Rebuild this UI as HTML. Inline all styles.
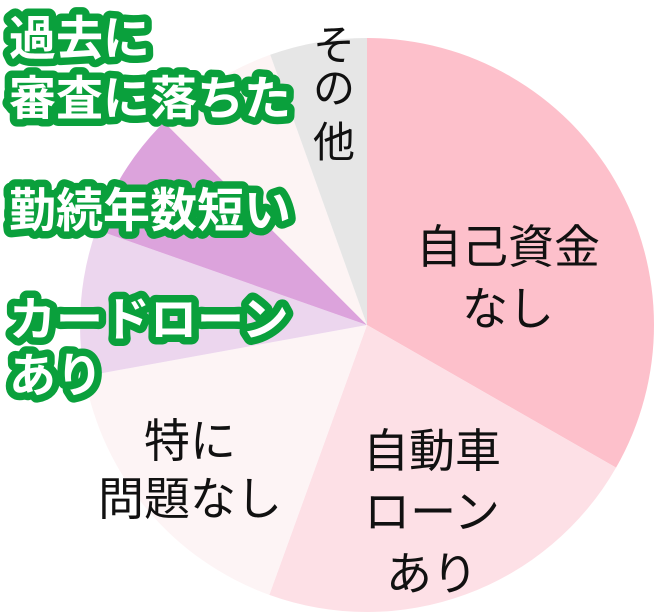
<!DOCTYPE html>
<html><head><meta charset="utf-8"><style>
html,body{margin:0;padding:0;background:#fff;}
svg{display:block;}
text{font-family:"Liberation Sans","Noto Sans CJK JP",sans-serif;}
.b{font-size:46px;fill:#111;text-anchor:middle;}
.g{font-size:47px;font-weight:bold;fill:#fff;stroke:#0aa03c;stroke-width:15px;stroke-linejoin:round;paint-order:stroke;}
</style></head><body>
<svg width="656" height="615" viewBox="0 0 656 615" xmlns="http://www.w3.org/2000/svg">
<g id="pie"></g>
<script>
(function(){
var cx=367,cy=325,r=287;
var s=[[0,119.8,"#fdc0cb"],[119.8,199.9,"#fde0e6"],[199.9,259.7,"#fdf4f5"],[259.7,289.4,"#ecd6ee"],[289.4,315,"#dca3dc"],[315,340.3,"#fdf4f4"],[340.3,360,"#e6e6e6"]];
var g=document.getElementById("pie");
function p(a){a=a*Math.PI/180;return [cx+r*Math.sin(a),cy-r*Math.cos(a)];}
s.forEach(function(q){var a=p(q[0]),b=p(q[1]);var l=(q[1]-q[0])>180?1:0;
var e=document.createElementNS("http://www.w3.org/2000/svg","path");
e.setAttribute("d","M"+cx+","+cy+"L"+a[0]+","+a[1]+"A"+r+","+r+" 0 "+l+" 1 "+b[0]+","+b[1]+"Z");
e.setAttribute("fill",q[2]);g.appendChild(e);});
})();
</script>
<text class="b" x="508" y="263">自己資金</text>
<text class="b" x="508" y="325">なし</text>
<text class="b" x="432" y="467">自動車</text>
<text class="b" x="432" y="528">ローン</text>
<text class="b" x="432" y="590">あり</text>
<text class="b" x="190" y="457">特に</text>
<text class="b" x="190" y="515">問題なし</text>
<text class="b" x="334" y="60" style="font-size:42px">そ</text>
<text class="b" x="334" y="103" style="font-size:42px">の</text>
<text class="b" x="334" y="157" style="font-size:42px">他</text>
<text class="g" x="9" y="55">過去に</text>
<text class="g" x="9" y="115">審査に落ちた</text>
<text class="g" x="9" y="227">勤続年数短い</text>
<text class="g" x="9" y="336">カードローン</text>
<text class="g" x="9" y="392">あり</text>
</svg>
</body></html>
